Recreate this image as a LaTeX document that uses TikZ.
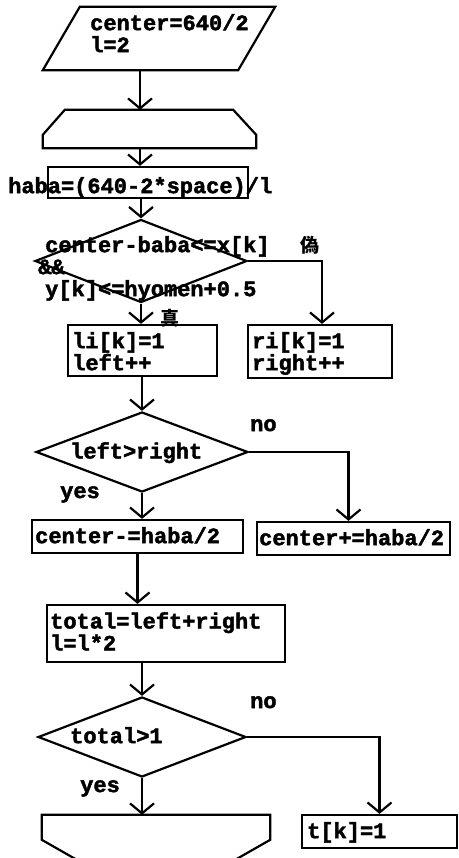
\documentclass[tikz,border=0pt]{standalone}
\usepackage{fontspec}
\setmonofont{Liberation Mono}[BoldFeatures={FakeBold=2}]
\newfontfamily\cjk{Noto Sans CJK JP}
\usetikzlibrary{arrows.meta,positioning,calc,shapes.geometric}
\tikzset{
  box/.style={draw, line width=2.2pt, inner sep=0pt},
  dec/.style={draw, diamond, line width=2.2pt, inner sep=0pt},
  area/.style={inner sep=0pt},
  txt/.style={font=\ttfamily\bfseries\fontsize{22}{22}\selectfont, inner sep=0pt, align=left},
  lbl/.style={font=\cjk\bfseries\fontsize{19}{19}\selectfont, inner sep=0pt},
  lnk/.style={line width=2.2pt},
  arr/.style={line width=2.2pt, -{Straight Barb[length=10pt,width=24pt]}}
}

\begin{document}
\begin{tikzpicture}[x=1pt, y=-1pt]
\useasboundingbox (0,0) rectangle (458,858);
\fill[white] (0,0) rectangle (458,858);
\clip (0,0) rectangle (458,858);
\coordinate (spine) at (140,0);

% init block (parallelogram)
\node[area, minimum width=232pt, minimum height=63pt] (init) at (159,38.5) {};
\draw[lnk] (init.south west) -- ($(init.north west)+(37,0)$) -- (init.north east)
  -- ($(init.south east)-(37,0)$) -- cycle;
\node[txt, anchor=north west] (initText) at (90,14) {center=640/2\\l=2};

% loop start
\node[area, minimum width=213pt, minimum height=38pt] (loopA) at (149.5,129) {};
\draw[lnk] (loopA.south west) -- ($(loopA.north west)+(0,25)$) -- ($(loopA.north west)+(22,0)$)
  -- ($(loopA.north east)-(23,0)$) -- ($(loopA.north east)+(0,25)$) -- (loopA.south east) -- cycle;

% haba
\node[box, minimum width=200pt, minimum height=31pt] (haba) at (148,182.5) {};
\node[txt, anchor=north west] (habaText) at (8,177) {haba=(640-2*space)/l};

% first test
\node[dec, minimum width=212pt, minimum height=83pt] (d1) at (141,261) {};
\node[txt, anchor=north west] (d1Text) at (45,236) {center-baba<=x[k]\\\hspace{-7pt}\&\&\\y[k]<=hyomen+0.5};
\node[lbl] (d1False) at (310,245) {偽};
\node[lbl] (d1True) at (170,318) {真};

\node[box, minimum width=149pt, minimum height=51pt] (li) at (142.5,350.5) {};
\node[txt, anchor=north west] (liText) at (72,332) {li[k]=1\\left++};
\node[box, minimum width=144pt, minimum height=53pt] (ri) at (320,351.5) {};
\node[txt, anchor=north west] (riText) at (252,332) {ri[k]=1\\right++};

% left > right
\node[dec, minimum width=212pt, minimum height=80pt] (d2) at (142,452) {};
\node[txt, anchor=north west] (d2Text) at (70,442) {left>right};
\node[txt, anchor=north west] (d2No) at (250,419) {no};
\node[txt, anchor=north west] (d2Yes) at (60,486) {yes};

\node[box, minimum width=211pt, minimum height=33pt] (cminus) at (137.5,536.5) {};
\node[txt, anchor=north west] (cminusText) at (35,527) {center-=haba/2};
\node[box, minimum width=193pt, minimum height=33pt] (cplus) at (353.5,538.5) {};
\node[txt, anchor=north west] (cplusText) at (259,529) {center+=haba/2};

\node[box, minimum width=238pt, minimum height=57pt] (total) at (166,633.5) {};
\node[txt, anchor=north west] (totalText) at (50,612) {total=left+right\\l=l*2};

% total > l
\node[dec, minimum width=208pt, minimum height=80pt] (d3) at (142,737) {};
\node[txt, anchor=north west] (d3Text) at (70,727) {total>1};
\node[txt, anchor=north west] (d3No) at (250,696) {no};
\node[txt, anchor=north west] (d3Yes) at (80,780) {yes};

\node[box, minimum width=155pt, minimum height=33pt] (tk) at (379.5,831.5) {};
\node[txt, anchor=north west] (tkText) at (307,822) {t[k]=1};

% loop end
\node[area, minimum width=228pt, minimum height=60pt] (loopB) at (156,845) {};
\draw[lnk] (loopB.north west) -- (loopB.north east) -- ($(loopB.north east)+(0,25)$)
  -- ($(loopB.south east)-(62,0)$) -- ($(loopB.south west)+(62,0)$)
  -- ($(loopB.north west)+(0,25)$) -- cycle;

% connectors
\draw[arr] (init.south -| spine) -- (loopA.north -| spine);
\draw[arr] (loopA.south -| spine) -- (haba.north -| spine);
\draw[arr] (haba.south -| d1.north) -- (d1.north);
\draw[arr] (d1.south) -- (d1.south |- li.north);
\draw[arr] (d1.east) -| ([xshift=2pt]ri.north);
\draw[arr] (li.south -| d2.north) -- (d2.north);
\draw[arr] (d2.south) -- (d2.south |- cminus.north);
\draw[arr] (d2.east) -| ([xshift=-5pt]cplus.north);
\draw[arr] (cminus.south) -- (cminus.south |- total.north);
\draw[arr] (total.south -| d3.north) -- (d3.north);
\draw[arr] (d3.south) -- (d3.south |- loopB.north);
\draw[arr] (d3.east) -| (tk.north);
\end{tikzpicture}
\end{document}
